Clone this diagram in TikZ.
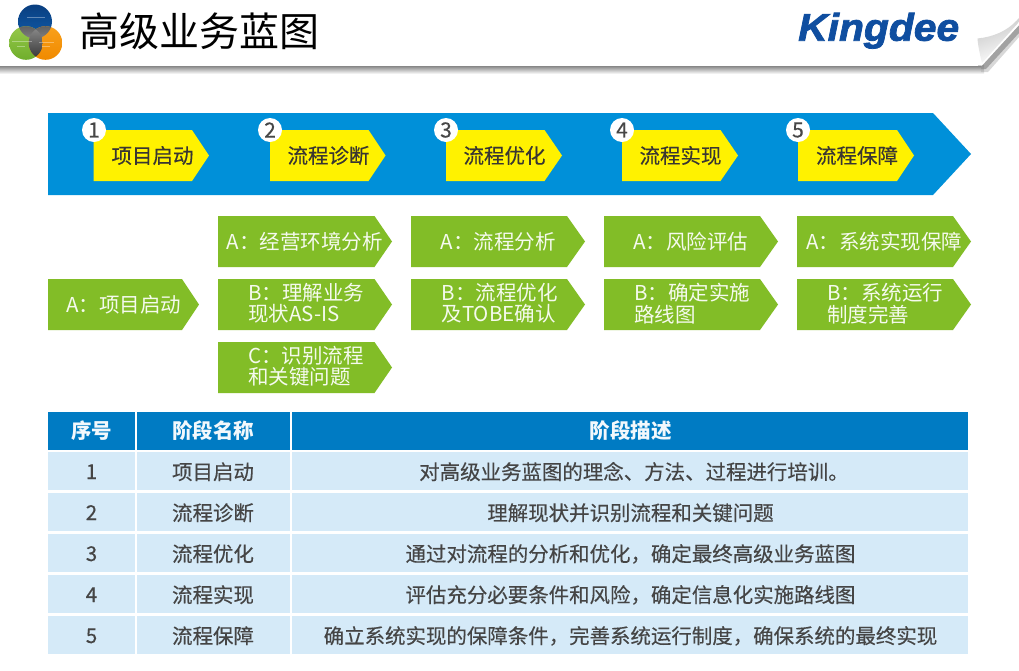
\documentclass[tikz,border=0pt]{standalone}
\usepackage{fontspec}
\setmainfont{Noto Sans CJK SC}
\newfontfamily\cjk{Noto Sans CJK SC}
\newfontfamily\cjkheavy[FakeBold=0.35]{Noto Sans CJK SC}
\newfontfamily\logofont[FakeStretch=1.06,FakeBold=2]{Liberation Sans}
\usetikzlibrary{shadings}
\definecolor{barblue}{HTML}{0090D9}
\definecolor{stepyellow}{HTML}{FFF200}
\definecolor{stepgreen}{HTML}{82BD27}
\definecolor{headblue}{HTML}{007BC3}
\definecolor{rowblue}{HTML}{D5EAF8}
\definecolor{tabletext}{HTML}{454545}
\definecolor{kdblue}{HTML}{0F4EA0}
\definecolor{logoblue}{HTML}{0F5AA8}
\definecolor{logobluedark}{HTML}{0A3F80}
\definecolor{logogreen}{HTML}{96C84A}
\definecolor{logogreendark}{HTML}{6FAE2C}
\definecolor{logoorange}{HTML}{F9A01B}
\definecolor{logoorangedark}{HTML}{F08A00}
\tikzset{
  bararrow/.style={fill=barblue},
  yellowarrow/.style={fill=stepyellow},
  greenarrow/.style={fill=stepgreen},
  steplabel/.style={inner sep=0pt,anchor=center,text=black!85!yellow!70!black,font=\cjkheavy\fontsize{20.5}{22}\selectfont},
  greenlabel/.style={inner sep=0pt,anchor=west,align=left,text=white!92!stepgreen,font=\fontsize{20.5}{21.4}\selectfont},
  numdisc/.style={circle,fill=white,minimum size=24pt,inner sep=0pt,text=black!72,font=\cjkheavy\fontsize{21}{22}\selectfont},
  headcell/.style={fill=headblue},
  rowcell/.style={fill=rowblue},
  headlabel/.style={inner sep=0pt,anchor=base,text=white!95!headblue,font=\bfseries\fontsize{20.5}{22}\selectfont},
  rowlabel/.style={inner sep=0pt,anchor=base,text=tabletext,font=\cjkheavy\fontsize{20.45}{22}\selectfont},
  title/.style={inner sep=0pt,anchor=west,text=black,font=\fontsize{40}{44}\selectfont},
}
\newcommand\chev[6]{%
  \pgfmathsetmacro\chevmid{(#3+#5)/2}%
  \fill[#1] (#2,#3) -- (#6,#3) -- (#4,\chevmid) -- (#6,#5) -- (#2,#5) -- cycle;}
\begin{document}
\begin{tikzpicture}[x=1pt,y=-1pt]
\useasboundingbox (0,0) rectangle (1019,670);
\fill[white] (0,0) rectangle (1019,670);

% header bar
\shade[top color=black!50,bottom color=white] (0,65.5) rectangle (984,74);
\fill[black!30,opacity=.5] (981,65.5) -- (1019,23) -- (1019,37) -- (988,72) -- (981,72) -- cycle;
\fill[black!45,opacity=.7] (981,65.5) -- (1019,25) -- (1019,33) -- (986,69) -- (981,69) -- cycle;
\fill[white] (0,0) rectangle (978,65.5);
\fill[white] (978,65.5) -- (982,65.5) -- (1019,25) -- (1019,0) -- (978,0) -- cycle;
\shade[left color=black!22,right color=white,shading angle=20]
  (977.5,38.5) .. controls (992,37) and (1007,32) .. (1019,18)
  -- (1019,22) -- (982,63) .. controls (980,55) and (978,46) .. (977.5,38.5) -- cycle;

% logo circles
\shade[top color=logobluedark,bottom color=logoblue] (35,21.5) circle (17);
\shade[top color=logogreen,bottom color=logogreendark] (26,43) circle (16.8);
\shade[top color=logoorange,bottom color=logoorangedark] (45.5,43) circle (16.8);
\begin{scope}
  \clip (35,21.5) circle (17);
  \shade[top color=black!62,bottom color=black!28] (26,43) circle (16.8);
  \shade[top color=black!62,bottom color=black!28] (45.5,43) circle (16.8);
\end{scope}
\begin{scope}
  \clip (26,43) circle (16.8);
  \shade[top color=black!45,bottom color=black!80] (45.5,43) circle (16.8);
\end{scope}
\draw[white,opacity=.35,line width=.9pt] (27,17.5) -- (45,17.5) (12,41) -- (32,41) (17,46) -- (25,46) (39,42.5) -- (54,42.5) (42,46.5) -- (50,46.5);

% title and wordmark
\node[title] (pagetitle) at (79.5,31) {高级业务蓝图};
\node[inner sep=0pt,anchor=base west,text=kdblue,font=\logofont\bfseries\itshape\fontsize{38.5}{40}\selectfont] (wordmark) at (798,40.7) {Kingdee};

% process bar
\chev{bararrow}{48}{113}{971}{195}{933}
\chev{yellowarrow}{93.5}{130}{209}{181}{192}
\chev{yellowarrow}{270}{130}{385.5}{181}{368.5}
\chev{yellowarrow}{446}{130}{562}{181}{544.5}
\chev{yellowarrow}{622}{130}{738}{181}{720.5}
\chev{yellowarrow}{798}{130}{914}{181}{897}
\node[steplabel] (s1) at (152.5,155.5) {项目启动};
\node[steplabel] (s2) at (328.5,155.5) {流程诊断};
\node[steplabel] (s3) at (504.5,155.5) {流程优化};
\node[steplabel] (s4) at (680.5,155.5) {流程实现};
\node[steplabel] (s5) at (857,155.5) {流程保障};
\node[numdisc] (n1) at (94,130) {1};
\node[numdisc] (n2) at (270,130) {2};
\node[numdisc] (n3) at (446,130) {3};
\node[numdisc] (n4) at (622,130) {4};
\node[numdisc] (n5) at (798,130) {5};

% green sub-steps
\chev{greenarrow}{48}{279}{199}{330}{182}
\chev{greenarrow}{218}{216}{392}{267}{374.5}
\chev{greenarrow}{218}{279}{392}{330}{374.5}
\chev{greenarrow}{218}{342}{392}{393}{374.5}
\chev{greenarrow}{411}{216}{585}{267}{567}
\chev{greenarrow}{411}{279}{585}{330}{567}
\chev{greenarrow}{604}{216}{778}{267}{760}
\chev{greenarrow}{604}{279}{778}{330}{760}
\chev{greenarrow}{797}{216}{971}{267}{953}
\chev{greenarrow}{797}{279}{971}{330}{953}
\node[greenlabel] (g1a) at (66,304.5) {A：项目启动};
\node[greenlabel] (g2a) at (226.5,241.5) {A：经营环境分析};
\node[greenlabel] (g2b) at (248,303.5) {B：理解业务\\现状AS-IS};
\node[greenlabel] (g2c) at (248,366.5) {C：识别流程\\和关键问题};
\node[greenlabel] (g3a) at (440.5,241.5) {A：流程分析};
\node[greenlabel] (g3b) at (441.5,303.5) {B：流程优化\\及TOBE确认};
\node[greenlabel] (g4a) at (633,241.5) {A：风险评估};
\node[greenlabel] (g4b) at (634,303.5) {B：确定实施\\路线图};
\node[greenlabel] (g5a) at (806,241.5) {A：系统实现保障};
\node[greenlabel] (g5b) at (827,303.5) {B：系统运行\\制度完善};

% table
\fill[headcell] (48,412) rectangle (135,450);
\fill[headcell] (137,412) rectangle (290,450);
\fill[headcell] (292,412) rectangle (968,450);
\foreach \ya/\yb in {452/490,493/531,534/572,575/613,616/654}{
  \fill[rowcell] (48,\ya) rectangle (135,\yb);
  \fill[rowcell] (137,\ya) rectangle (290,\yb);
  \fill[rowcell] (292,\ya) rectangle (968,\yb);
}
\node[headlabel] (h1) at (91.5,438.5) {序号};
\node[headlabel] (h2) at (213,438.5) {阶段名称};
\node[headlabel] (h3) at (630.5,438.5) {阶段描述};
\node[rowlabel] (r1a) at (91.5,479) {1};
\node[rowlabel] (r2a) at (91.5,520) {2};
\node[rowlabel] (r3a) at (91.5,561) {3};
\node[rowlabel] (r4a) at (91.5,602) {4};
\node[rowlabel] (r5a) at (91.5,643) {5};
\node[rowlabel] (r1b) at (213,479.5) {项目启动};
\node[rowlabel] (r2b) at (213,520.5) {流程诊断};
\node[rowlabel] (r3b) at (213,561.5) {流程优化};
\node[rowlabel] (r4b) at (213,602.5) {流程实现};
\node[rowlabel] (r5b) at (213,643.5) {流程保障};
\node[rowlabel] (r1c) at (634,479.5) {对高级业务蓝图的理念、方法、过程进行培训。};
\node[rowlabel] (r2c) at (630.5,520.5) {理解现状并识别流程和关键问题};
\node[rowlabel] (r3c) at (630.5,561.5) {通过对流程的分析和优化，确定最终高级业务蓝图};
\node[rowlabel] (r4c) at (630.5,602.5) {评估充分必要条件和风险，确定信息化实施路线图};
\node[rowlabel] (r5c) at (630.5,643.5) {确立系统实现的保障条件，完善系统运行制度，确保系统的最终实现};
\end{tikzpicture}
\end{document}
